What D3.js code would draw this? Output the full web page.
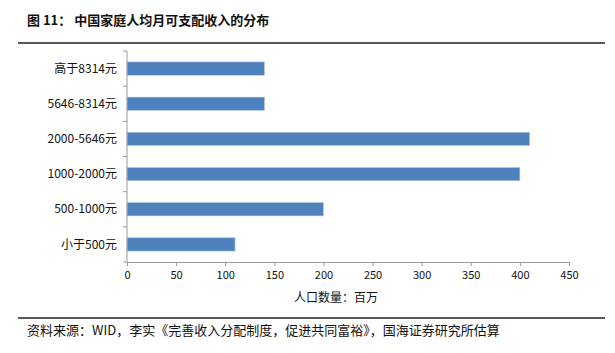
<!DOCTYPE html>
<html>
<head>
<meta charset="utf-8">
<script src="https://cdn.jsdelivr.net/npm/d3@7"></script>
<style>
  body { margin: 0; background: #fff; }
  text { font-family: "Noto Sans CJK SC", "Liberation Sans", sans-serif; }
</style>
</head>
<body>
<svg id="chart" width="615" height="353"></svg>
<script>
const categories = ["高于8314元", "5646-8314元", "2000-5646元", "1000-2000元", "500-1000元", "小于500元"];
const values = [140, 140, 410, 400, 200, 110];
const xTicks = [0, 50, 100, 150, 200, 250, 300, 350, 400, 450];

const svg = d3.select("#chart");
const margin = { left: 127, top: 51, right: 46, bottom: 91 };
const innerWidth = 615 - margin.left - margin.right;
const innerHeight = 353 - margin.top - margin.bottom;

// header + footer rules
svg.append("text")
    .attr("x", 27).attr("y", 25)
    .attr("font-size", 13).attr("font-weight", "bold").attr("fill", "#111")
    .text("图 11：  中国家庭人均月可支配收入的分布");
svg.append("line")
    .attr("x1", 18).attr("x2", 605).attr("y1", 43).attr("y2", 43)
    .attr("stroke", "#222").attr("stroke-width", 1.5);
svg.append("line")
    .attr("x1", 18).attr("x2", 605).attr("y1", 318).attr("y2", 318)
    .attr("stroke", "#222").attr("stroke-width", 1.5);
svg.append("text")
    .attr("x", 27).attr("y", 335)
    .attr("font-size", 13).attr("fill", "#111")
    .text("资料来源：WID，李实《完善收入分配制度，促进共同富裕》，国海证券研究所估算");

const g = svg.append("g").attr("transform", `translate(${margin.left},${margin.top})`);

const x = d3.scaleLinear().domain([0, 450]).range([0, innerWidth]);
const y = d3.scaleBand().domain(categories).range([0, innerHeight]).paddingInner(0.62).paddingOuter(0.31);

g.selectAll(".bar")
    .data(categories)
    .join("rect")
    .attr("class", "bar")
    .attr("x", 0)
    .attr("y", d => y(d))
    .attr("width", (d, i) => x(values[i]))
    .attr("height", y.bandwidth())
    .attr("fill", "#4f81bd")
    .attr("stroke", "#b9cde5")
    .attr("stroke-width", 0.6);

// x axis
const xAxis = g.append("g")
    .attr("transform", `translate(0,${innerHeight})`)
    .call(d3.axisBottom(x).tickValues(xTicks).tickSize(4).tickSizeOuter(0));
xAxis.select(".domain").attr("stroke", "#999");
xAxis.selectAll(".tick line").attr("stroke", "#999");
xAxis.selectAll(".tick text")
    .attr("font-family", "Liberation Sans, Arial, sans-serif")
    .attr("font-size", 11).attr("fill", "#111").attr("dy", "0.9em");

// y axis with ticks on band boundaries
const yAxis = g.append("g");
yAxis.append("line")
    .attr("x1", 0).attr("x2", 0).attr("y1", 0).attr("y2", innerHeight)
    .attr("stroke", "#999");
yAxis.selectAll(".ytick")
    .data(d3.range(categories.length + 1))
    .join("line")
    .attr("x1", -4).attr("x2", 0)
    .attr("y1", i => i * innerHeight / categories.length)
    .attr("y2", i => i * innerHeight / categories.length)
    .attr("stroke", "#999");
yAxis.selectAll(".ylabel")
    .data(categories)
    .join("text")
    .attr("x", -10)
    .attr("y", d => y(d) + y.bandwidth() / 2)
    .attr("dy", "0.35em")
    .attr("text-anchor", "end")
    .attr("font-size", 12).attr("fill", "#111")
    .text(d => d);

svg.append("text")
    .attr("x", margin.left + innerWidth / 2 - 12)
    .attr("y", 302)
    .attr("text-anchor", "middle")
    .attr("font-size", 12).attr("fill", "#111")
    .text("人口数量：百万");
</script>
</body>
</html>
